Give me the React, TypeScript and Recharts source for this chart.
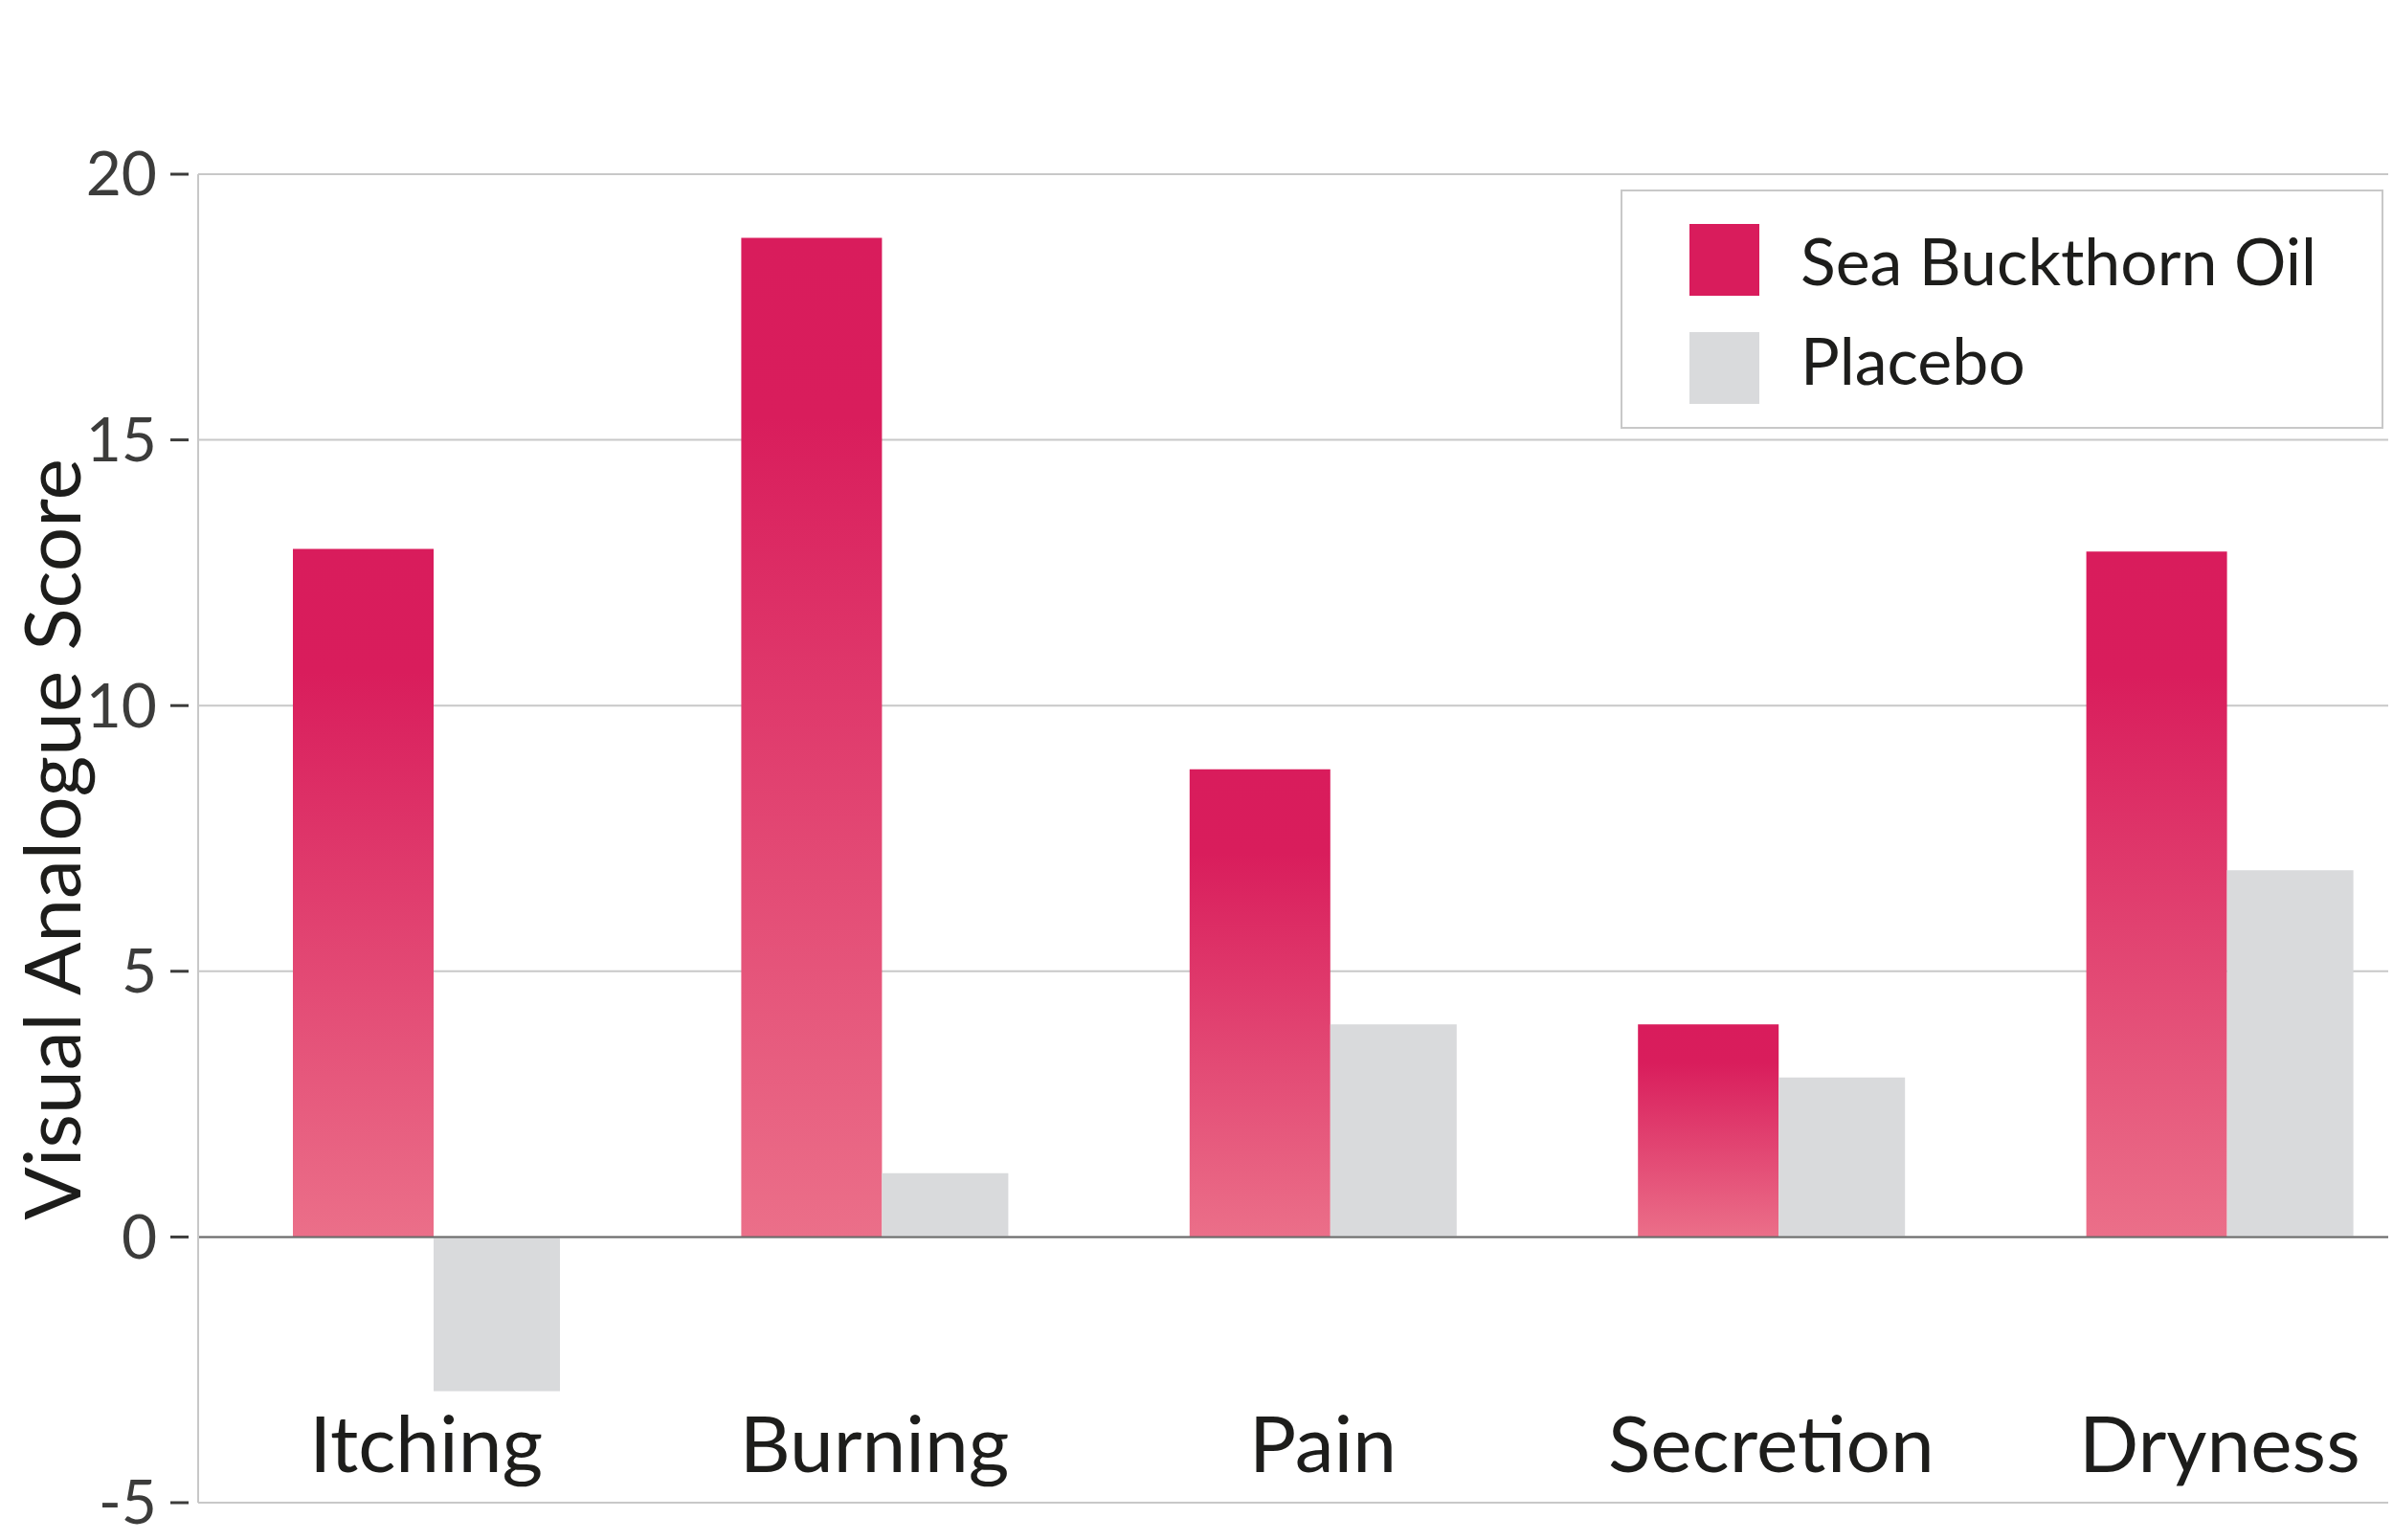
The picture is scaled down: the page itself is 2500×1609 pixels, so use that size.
import React from 'react';
import { BarChart, Bar, XAxis, YAxis, CartesianGrid, Legend, ReferenceLine, Label } from 'recharts';

const categories = ['Itching', 'Burning', 'Pain', 'Secretion', 'Dryness'];
const seaBuckthorn = [12.95, 18.8, 8.8, 4.0, 12.9];
const placebo = [-2.9, 1.2, 4.0, 3.0, 6.9];
const yTicks = [-5, 0, 5, 10, 15, 20];
const seriesOrder = ['sbo', 'placebo'];

const data = categories.map((name, i) => ({ name, sbo: seaBuckthorn[i], placebo: placebo[i] }));

const FONT = 'Lato, "Open Sans", sans-serif';
const PINK = '#d91c5c';
const GREY = '#d9dadc';

// y ticks: number plus a short dash, detached from the axis line
function YTick({ x, y, payload }: any) {
  return (
    <g>
      <line x1={x - 29} x2={x - 10} y1={y} y2={y} stroke="#3c3c3b" strokeWidth={3} />
      <text x={x - 43} y={y} dy="0.35em" textAnchor="end" fontSize={64} fill="#3c3c3b" fontFamily={FONT}>
        {payload.value}
      </text>
    </g>
  );
}

// category names sit inside the plot, just above the -5 line
function XTick({ x, y, payload }: any) {
  return (
    <text x={x} y={y - 32} textAnchor="middle" fontSize={82} fill="#1d1d1b" fontFamily={FONT}>
      {payload.value}
    </text>
  );
}

function LegendBox({ payload }: any) {
  const items = [...(payload || [])].sort(
    (a: any, b: any) => seriesOrder.indexOf(a.dataKey) - seriesOrder.indexOf(b.dataKey)
  );
  return (
    <svg width={797} height={250} style={{ display: 'block' }}>
      <rect x={1} y={1} width={795} height={248} fill="#fff" stroke="#c8c8c8" strokeWidth={2} />
      {items.map((entry: any, i: number) => (
        <g key={entry.value}>
          <rect x={72} y={36 + i * 113} width={73} height={75} fill={entry.dataKey === 'sbo' ? PINK : GREY} />
          <text x={188} y={100 + i * 104} fontSize={68} fill="#1d1d1b" fontFamily={FONT}>
            {entry.value}
          </text>
        </g>
      ))}
    </svg>
  );
}

export default function App() {
  return (
    <div style={{ position: 'absolute', left: 0, top: 0, background: '#fff' }}>
      <BarChart
        width={2500}
        height={1609}
        data={data}
        barGap={0}
        margin={{ top: 182, right: 5, bottom: 9, left: 0 }}
      >
        <defs>
          <linearGradient id="sboFill" x1="0" y1="0" x2="0" y2="1">
            <stop offset="0" stopColor="#d91c5c" />
            <stop offset="0.18" stopColor="#d91d5c" />
            <stop offset="1" stopColor="#eb6f89" />
          </linearGradient>
        </defs>
        <CartesianGrid vertical={false} stroke="#c8c8c8" strokeWidth={2} />
        <XAxis
          dataKey="name"
          height={30}
          padding={{ left: 4, right: -58 }}
          axisLine={false}
          tickLine={false}
          tickSize={0}
          tickMargin={0}
          tick={<XTick />}
          interval={0}
        />
        <YAxis
          width={207}
          domain={[-5, 20]}
          ticks={yTicks}
          interval={0}
          axisLine={{ stroke: '#c8c8c8', strokeWidth: 2 }}
          tickLine={false}
          tickSize={0}
          tickMargin={0}
          tick={<YTick />}
        >
          <Label
            content={() => (
              <text
                x={52}
                y={877}
                transform="rotate(-90 52 877)"
                textAnchor="middle"
                dominantBaseline="central"
                fontSize={82}
                fill="#1d1d1b"
                fontFamily={FONT}
              >
                Visual Analogue Score
              </text>
            )}
          />
        </YAxis>
        <Legend
          layout="horizontal"
          verticalAlign="middle"
          align="center"
          wrapperStyle={{ left: 1693, top: 198, width: 797, height: 250 }}
          content={<LegendBox />}
        />
        <Bar dataKey="sbo" name="Sea Buckthorn Oil" fill="url(#sboFill)" barSize={147} isAnimationActive={false} />
        <Bar dataKey="placebo" name="Placebo" fill={GREY} barSize={132} isAnimationActive={false} />
        <ReferenceLine y={0} stroke="#6b6b6b" strokeWidth={2} />
      </BarChart>
    </div>
  );
}
